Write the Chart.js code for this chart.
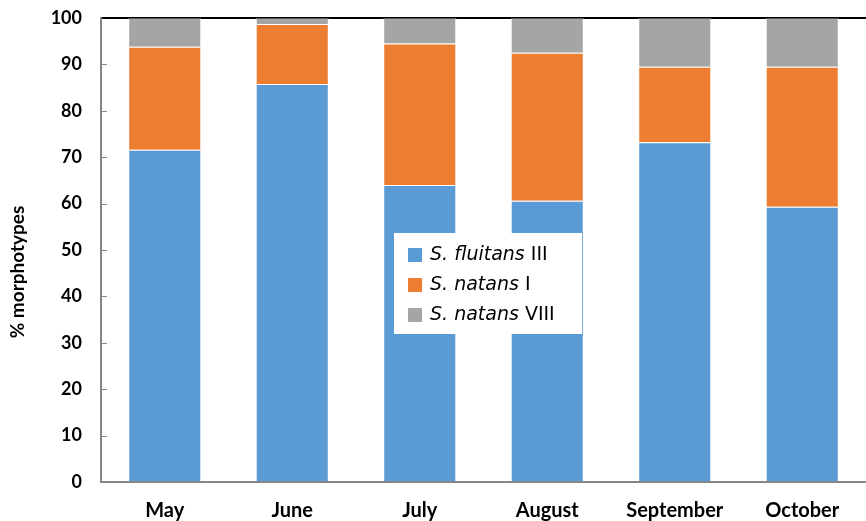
<!DOCTYPE html>
<html>
<head>
<meta charset="utf-8">
<script src="https://cdn.jsdelivr.net/npm/chart.js@4"></script>
<style>
  html, body { margin: 0; padding: 0; background: #fff; }
  #wrap { position: relative; width: 866px; height: 521px; }
</style>
</head>
<body>
<div id="wrap"><canvas id="morphChart" width="866" height="521"></canvas></div>
<script>
const months = ["May", "June", "July", "August", "September", "October"];

// share of each morphotype per month (%)
const fluitansIII = [71.6, 85.8, 64.0, 60.6, 73.2, 59.3];
const natansI = [22.2, 12.9, 30.5, 31.9, 16.3, 30.2];
const natansVIII = [6.2, 1.3, 5.5, 7.5, 10.5, 10.5];

// legend names: italic species part + plain morphotype numeral
const speciesNames = ["S. fluitans", "S. natans", "S. natans"];
const typeNames = ["III", "I", "VIII"];
const seriesColors = ["#5B9BD5", "#ED7D31", "#A5A5A5"];

const yTicks = [0, 10, 20, 30, 40, 50, 60, 70, 80, 90, 100];

const axisGray = "#868686";
const labelFont = "Lato, 'DejaVu Sans', sans-serif";
const legendFont = "'DejaVu Sans', sans-serif";

// short tick marks pointing into the plot, plus the y-axis title
const axisExtras = {
  id: "axisExtras",
  afterDraw(chart) {
    const ctx = chart.ctx;
    const y = chart.scales.y;
    const area = chart.chartArea;
    ctx.save();
    ctx.strokeStyle = axisGray;
    ctx.lineWidth = 1;
    yTicks.forEach(v => {
      if (v === 0 || v === 100) return;
      const py = Math.round(y.getPixelForValue(v)) + 0.5;
      ctx.beginPath();
      ctx.moveTo(area.left, py);
      ctx.lineTo(area.left + 6, py);
      ctx.stroke();
    });

    ctx.translate(18, (area.top + area.bottom) / 2 + 22);
    ctx.rotate(-Math.PI / 2);
    ctx.fillStyle = "#000";
    ctx.font = "bold 19px " + labelFont;
    ctx.textAlign = "center";
    ctx.textBaseline = "middle";
    ctx.fillText("% morphotypes", 0, 0);
    ctx.restore();
  }
};

// boxed legend inside the plot with mixed italic / upright names
const boxLegend = {
  id: "boxLegend",
  afterDatasetsDraw(chart) {
    const ctx = chart.ctx;
    const area = chart.chartArea;
    const bx = area.left + 293, by = area.top + 215;
    const bw = 188, bh = 101;
    ctx.save();
    ctx.fillStyle = "#fff";
    ctx.fillRect(bx, by, bw, bh);
    ctx.textBaseline = "middle";
    chart.data.datasets.forEach((ds, i) => {
      const cy = by + 22 + i * 30;
      ctx.fillStyle = ds.backgroundColor;
      ctx.fillRect(bx + 14, cy - 7, 14, 14);
      ctx.fillStyle = "#000";
      ctx.font = "oblique 19px " + legendFont;
      ctx.fillText(speciesNames[i], bx + 36, cy);
      const w = ctx.measureText(speciesNames[i] + " ").width;
      ctx.font = "19px " + legendFont;
      ctx.fillText(typeNames[i], bx + 36 + w, cy);
    });
    ctx.restore();
  }
};

const seriesData = [fluitansIII, natansI, natansVIII];

new Chart(document.getElementById("morphChart"), {
  type: "bar",
  data: {
    labels: months,
    datasets: seriesData.map((d, i) => ({
      label: speciesNames[i] + " " + typeNames[i],
      data: d,
      backgroundColor: seriesColors[i],
      borderColor: "rgba(255,255,255,0.35)",
      borderWidth: 1,
      categoryPercentage: 1,
      barPercentage: 0.573
    }))
  },
  options: {
    responsive: false,
    animation: false,
    layout: { padding: { top: 18, left: 0, right: 0, bottom: 0 } },
    plugins: {
      legend: { display: false },
      tooltip: { enabled: false }
    },
    scales: {
      x: {
        stacked: true,
        grid: { display: false, drawTicks: false },
        border: { color: axisGray, width: 2 },
        ticks: {
          color: "#000",
          padding: 17,
          font: { family: labelFont, size: 20, weight: "bold" }
        },
        afterFit(scale) { scale.height = 39; }
      },
      y: {
        stacked: true,
        min: 0,
        max: 100,
        afterBuildTicks(scale) { scale.ticks = yTicks.map(v => ({ value: v })); },
        grid: {
          drawTicks: false,
          lineWidth: 2,
          color: ctx => (ctx.tick && ctx.tick.value === 100 ? "#000" : "rgba(0,0,0,0)")
        },
        border: { color: axisGray, width: 2 },
        ticks: {
          color: "#000",
          padding: 19,
          font: { family: labelFont, size: 18, weight: "bold" }
        },
        afterFit(scale) {
          scale.width = 101;
          // tick padding would otherwise push the plot top down
          scale.paddingTop = 0;
          scale.paddingBottom = 0;
        }
      }
    }
  },
  plugins: [axisExtras, boxLegend]
});
</script>
</body>
</html>
